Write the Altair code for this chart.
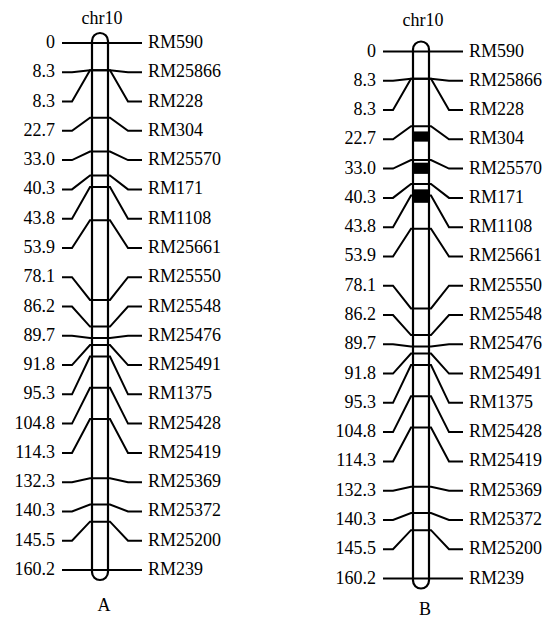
import altair as alt
import pandas as pd

# ---------------- data ----------------
chromosome = "chr10"
panels = ["A", "B"]
positions = [0, 8.3, 8.3, 22.7, 33.0, 40.3, 43.8, 53.9, 78.1, 86.2, 89.7,
             91.8, 95.3, 104.8, 114.3, 132.3, 140.3, 145.5, 160.2]
markers = ["RM590", "RM25866", "RM228", "RM304", "RM25570", "RM171", "RM1108",
           "RM25661", "RM25550", "RM25548", "RM25476", "RM25491", "RM1375",
           "RM25428", "RM25419", "RM25369", "RM25372", "RM25200", "RM239"]
# dark segments on the chromosome of panel B (cM)
block_start_B = [24.3, 33.8, 41.9]
block_end_B = [27.4, 37.2, 46.0]

# ---------------- layout (px) ----------------
FONT = "Times New Roman"
FS = 18
W, H = 539, 610
LABEL_R, C0, C1, C2, C3, C4, C5, NAME_L = 47, 54, 64, 82, 102, 120, 134, 140
BAR_L, BAR_R, CENTER = 84, 100, 94
PANEL_DX = {"A": 0, "B": 321}
PANEL_DY = {"A": 0, "B": 8.5}
TITLE_DY = {"A": -24, "B": -31}
CAP_DY = {"A": 36, "B": 31}

top, bottom = min(positions), max(positions)
n = len(positions)
slots = [top + i * (bottom - top) / (n - 1) for i in range(n)]
pos_labels = ["0" if v == 0 else f"{v:.1f}" for v in positions]

xs = alt.Scale(domain=[0, W], nice=False, zero=False)
ys = alt.Scale(domain=[top, bottom], range=[35, 562], nice=False, zero=False)
X = lambda f: alt.X(f, type="quantitative", scale=xs, axis=None)
Y = lambda f: alt.Y(f, type="quantitative", scale=ys, axis=None)
TXT = dict(font=FONT, fontSize=FS, color="black", baseline="middle")


def panel_layers(name, blocks):
    dx, dy = PANEL_DX[name], PANEL_DY[name]

    bar_df = pd.DataFrame({"x": [BAR_L + dx], "x2": [BAR_R + dx],
                           "y": [top], "y2": [bottom], "panel": name})
    bar = alt.Chart(bar_df).mark_rect(
        fill="white", stroke="black", strokeWidth=2.2, cornerRadius=8,
        yOffset=dy - 10, y2Offset=dy + 10
    ).encode(x=X("x"), x2="x2", y=Y("y"), y2="y2")

    rows = []
    for i, (p, L) in enumerate(zip(positions, slots)):
        pts = [(C0, L), (C1, L), (C2, p), (C3, p), (C4, L), (C5, L)]
        for k, (xx, yy) in enumerate(pts):
            rows.append({"key": f"{name}{i}", "k": k, "x": xx + dx, "y": yy})
    lines = alt.Chart(pd.DataFrame(rows)).mark_line(
        color="black", strokeWidth=2, yOffset=dy
    ).encode(x=X("x"), y=Y("y"), detail="key:N", order="k:Q")

    left_df = pd.DataFrame({"x": LABEL_R + dx, "y": slots, "t": pos_labels})
    left = alt.Chart(left_df).mark_text(align="right", yOffset=dy, **TXT).encode(
        x=X("x"), y=Y("y"), text="t:N")

    right_df = pd.DataFrame({"x": NAME_L + dx, "y": slots, "t": markers})
    right = alt.Chart(right_df).mark_text(align="left", yOffset=dy, **TXT).encode(
        x=X("x"), y=Y("y"), text="t:N")

    title_df = pd.DataFrame({"x": [CENTER + dx], "y": [top], "t": [chromosome]})
    title = alt.Chart(title_df).mark_text(
        align="center", yOffset=dy + TITLE_DY[name], **TXT
    ).encode(x=X("x"), y=Y("y"), text="t:N")

    cap_df = pd.DataFrame({"x": [CENTER + 2 + dx], "y": [bottom], "t": [name]})
    cap = alt.Chart(cap_df).mark_text(
        align="center", yOffset=dy + CAP_DY[name], **TXT
    ).encode(x=X("x"), y=Y("y"), text="t:N")

    out = [bar]
    if blocks:
        blk_df = pd.DataFrame({"x": BAR_L + 1 + dx, "x2": BAR_R - 1 + dx,
                               "y": blocks[0], "y2": blocks[1]})
        out.append(alt.Chart(blk_df).mark_rect(fill="black", yOffset=dy, y2Offset=dy).encode(
            x=X("x"), x2="x2", y=Y("y"), y2="y2"))
    out += [lines, left, right, title, cap]
    return out


layers = panel_layers("A", None) + panel_layers("B", (block_start_B, block_end_B))

chart = alt.layer(*layers).properties(
    width=W, height=H, padding=0
).configure(background="white", font=FONT).configure_view(stroke=None)

chart.save("out.html", embed_options={"renderer": "svg", "actions": False})
